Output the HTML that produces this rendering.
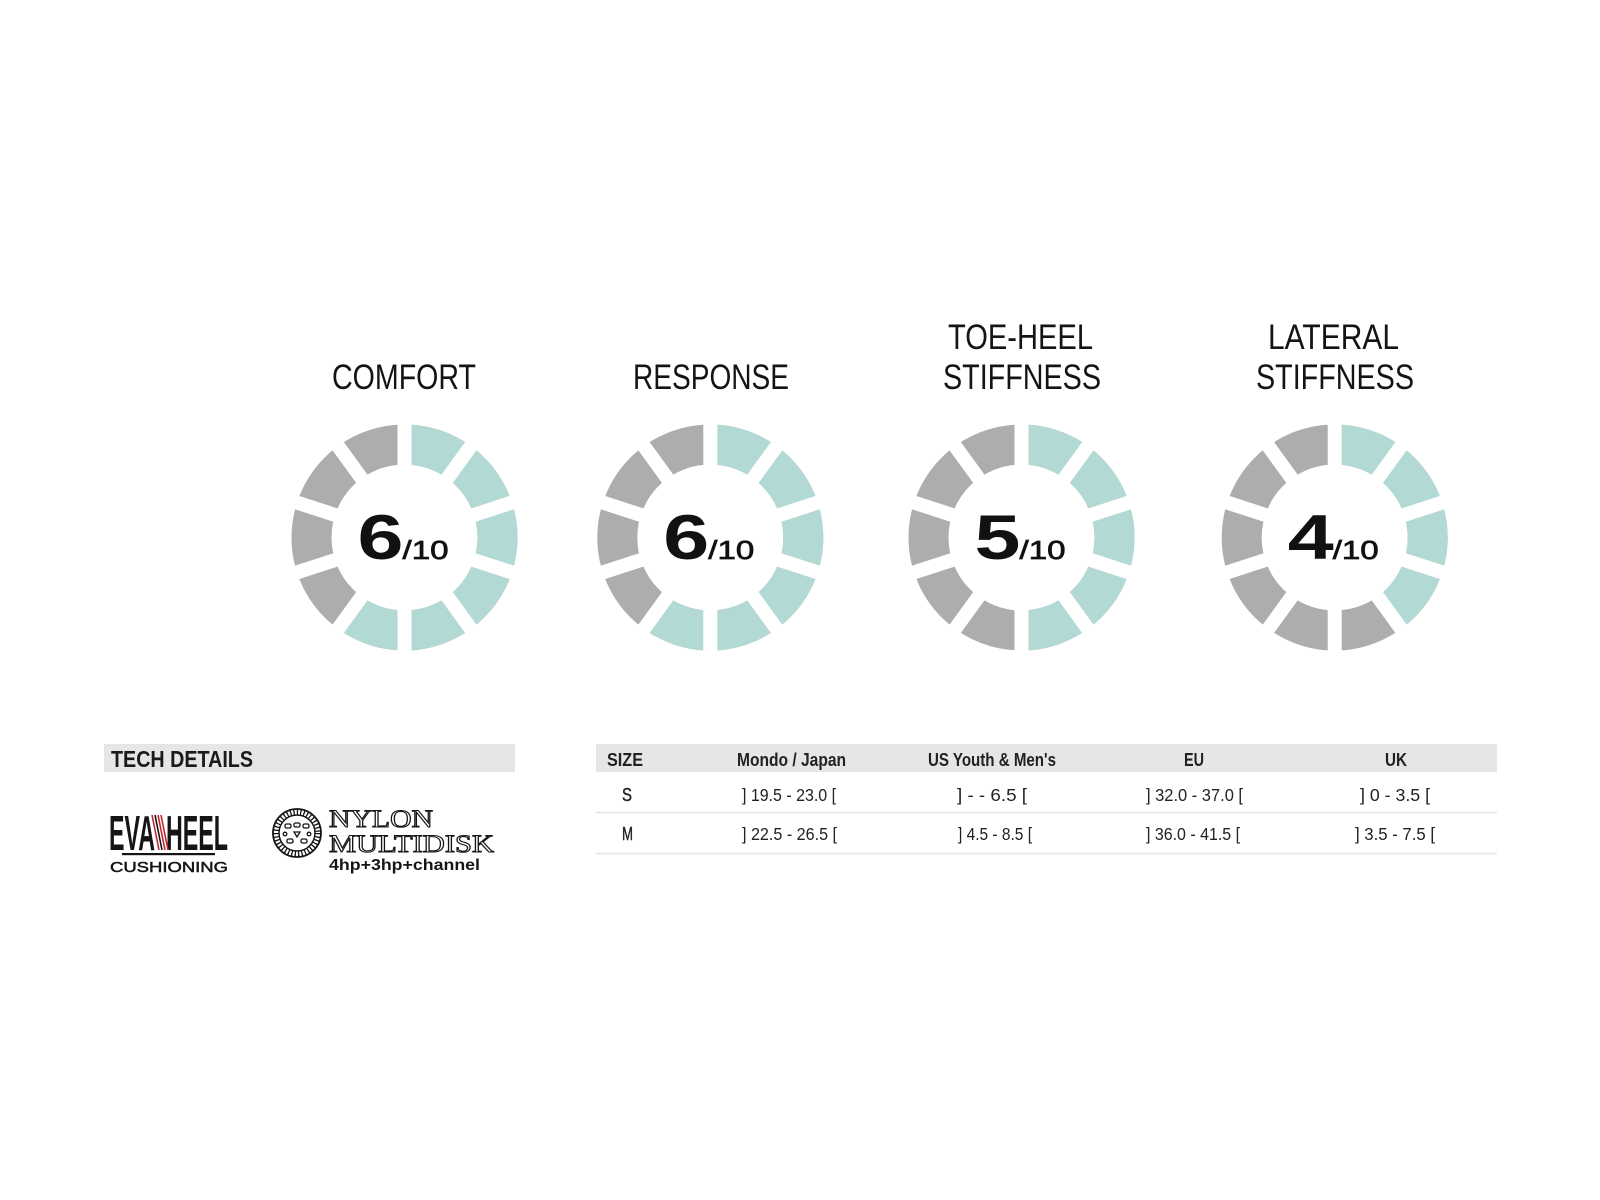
<!DOCTYPE html>
<html>
<head>
<meta charset="utf-8">
<style>
html,body{margin:0;padding:0;background:#ffffff;}
svg{display:block;}
.t{font-family:"Liberation Sans Narrow","Liberation Sans",sans-serif;}
.n{font-family:"Liberation Sans",sans-serif;}
</style>
</head>
<body>
<svg width="1600" height="1200" viewBox="0 0 1600 1200" xmlns="http://www.w3.org/2000/svg">
<defs>
  <g id="gaps" stroke="#ffffff" stroke-width="14">
    <line x1="0" y1="-118" x2="0" y2="118"/>
    <line x1="0" y1="-118" x2="0" y2="118" transform="rotate(36)"/>
    <line x1="0" y1="-118" x2="0" y2="118" transform="rotate(72)"/>
    <line x1="0" y1="-118" x2="0" y2="118" transform="rotate(108)"/>
    <line x1="0" y1="-118" x2="0" y2="118" transform="rotate(144)"/>
  </g>
</defs>
<rect width="1600" height="1200" fill="#ffffff"/>

<!-- Titles -->
<g class="t" fill="#141414" font-size="35">
  <text x="332" y="389" textLength="144" lengthAdjust="spacingAndGlyphs">COMFORT</text>
  <text x="633" y="389" textLength="156" lengthAdjust="spacingAndGlyphs">RESPONSE</text>
  <text x="948" y="349" textLength="145" lengthAdjust="spacingAndGlyphs">TOE-HEEL</text>
  <text x="943" y="389" textLength="158" lengthAdjust="spacingAndGlyphs">STIFFNESS</text>
  <text x="1268" y="349" textLength="131" lengthAdjust="spacingAndGlyphs">LATERAL</text>
  <text x="1256" y="389" textLength="158" lengthAdjust="spacingAndGlyphs">STIFFNESS</text>
</g>

<!-- Gauge 1: 6/10 -->
<g transform="translate(404.5,537.5)">
  <circle r="93" fill="none" stroke="#adadaf" stroke-width="40"/>
  <circle r="93" fill="none" stroke="#b3d9d5" stroke-width="40" transform="rotate(-90)" stroke-dasharray="350.6 1000"/>
  <use href="#gaps"/>
  <text class="n" x="-47" y="21.5" font-size="63" font-weight="bold" fill="#111" textLength="46" lengthAdjust="spacingAndGlyphs">6</text>
  <text class="n" x="-2" y="21.5" font-size="26" fill="#111" stroke="#111" stroke-width="0.7" textLength="46" lengthAdjust="spacingAndGlyphs">/10</text>
</g>

<!-- Gauge 2: 6/10 -->
<g transform="translate(710.3,537.5)">
  <circle r="93" fill="none" stroke="#adadaf" stroke-width="40"/>
  <circle r="93" fill="none" stroke="#b3d9d5" stroke-width="40" transform="rotate(-90)" stroke-dasharray="350.6 1000"/>
  <use href="#gaps"/>
  <text class="n" x="-47" y="21.5" font-size="63" font-weight="bold" fill="#111" textLength="46" lengthAdjust="spacingAndGlyphs">6</text>
  <text class="n" x="-2" y="21.5" font-size="26" fill="#111" stroke="#111" stroke-width="0.7" textLength="46" lengthAdjust="spacingAndGlyphs">/10</text>
</g>

<!-- Gauge 3: 5/10 -->
<g transform="translate(1021.5,537.5)">
  <circle r="93" fill="none" stroke="#adadaf" stroke-width="40"/>
  <circle r="93" fill="none" stroke="#b3d9d5" stroke-width="40" transform="rotate(-90)" stroke-dasharray="292.2 1000"/>
  <use href="#gaps"/>
  <text class="n" x="-47" y="21.5" font-size="63" font-weight="bold" fill="#111" textLength="46" lengthAdjust="spacingAndGlyphs">5</text>
  <text class="n" x="-2" y="21.5" font-size="26" fill="#111" stroke="#111" stroke-width="0.7" textLength="46" lengthAdjust="spacingAndGlyphs">/10</text>
</g>

<!-- Gauge 4: 4/10 -->
<g transform="translate(1334.7,537.5)">
  <circle r="93" fill="none" stroke="#adadaf" stroke-width="40"/>
  <circle r="93" fill="none" stroke="#b3d9d5" stroke-width="40" transform="rotate(-90)" stroke-dasharray="233.7 1000"/>
  <use href="#gaps"/>
  <text class="n" x="-47" y="21.5" font-size="63" font-weight="bold" fill="#111" textLength="46" lengthAdjust="spacingAndGlyphs">4</text>
  <text class="n" x="-2" y="21.5" font-size="26" fill="#111" stroke="#111" stroke-width="0.7" textLength="46" lengthAdjust="spacingAndGlyphs">/10</text>
</g>

<!-- Tech details -->
<rect x="104" y="744" width="411" height="28" fill="#e6e6e8"/>
<text class="t" x="111" y="767" font-size="23" font-weight="bold" fill="#1a1a1a" textLength="142" lengthAdjust="spacingAndGlyphs">TECH DETAILS</text>

<!-- EVA HEEL logo -->
<g class="t" font-weight="bold" fill="#151515">
  <text x="109" y="850" font-size="49" textLength="46" lengthAdjust="spacingAndGlyphs">EVA</text>
  <text x="166" y="850" font-size="49" textLength="62" lengthAdjust="spacingAndGlyphs">HEEL</text>
</g>
<g stroke-width="1.6">
  <line x1="152" y1="815" x2="159" y2="850" stroke="#c22a2e"/>
  <line x1="155" y1="815" x2="162" y2="850" stroke="#151515"/>
  <line x1="158" y1="815" x2="165" y2="850" stroke="#c22a2e"/>
  <line x1="161" y1="815" x2="168" y2="850" stroke="#c22a2e"/>
</g>
<rect x="122" y="853" width="93" height="2.2" fill="#151515"/>
<text class="n" x="110" y="872" font-size="15" fill="#151515" stroke="#151515" stroke-width="0.5" textLength="118" lengthAdjust="spacingAndGlyphs">CUSHIONING</text>

<!-- Nylon multidisk logo -->
<g transform="translate(297,833)" fill="none" stroke="#151515">
  <circle r="24" stroke-width="1.8"/>
  <circle r="21" stroke-width="5" stroke-dasharray="1.3 2.1"/>
  <circle r="18" stroke-width="1.5"/>
  <g stroke-width="1.3">
    <rect x="-12" y="-9" width="6" height="4" rx="1.5"/>
    <rect x="-3" y="-10" width="6" height="4" rx="1.5"/>
    <rect x="6" y="-9" width="6" height="4" rx="1.5"/>
    <circle cx="-12" cy="1" r="1.8"/>
    <circle cx="12" cy="1" r="1.8"/>
    <polygon points="-3,-1 3,-1 0,4"/>
    <rect x="-10" y="6" width="6" height="4" rx="1.5"/>
    <rect x="4" y="6" width="6" height="4" rx="1.5"/>
  </g>
</g>
<g font-family="'Liberation Serif',serif" fill="#ffffff" stroke="#151515" stroke-width="1.1" font-size="25">
  <text x="329" y="827" textLength="104" lengthAdjust="spacingAndGlyphs">NYLON</text>
  <text x="329" y="852" textLength="165" lengthAdjust="spacingAndGlyphs">MULTIDISK</text>
</g>
<text class="n" x="329" y="870" font-size="16" font-weight="bold" fill="#151515" textLength="151" lengthAdjust="spacingAndGlyphs">4hp+3hp+channel</text>

<!-- Size table -->
<rect x="596" y="744" width="901" height="28" fill="#e6e6e8"/>
<g class="t" font-size="18" font-weight="bold" fill="#222">
  <text x="607" y="766" textLength="36" lengthAdjust="spacingAndGlyphs">SIZE</text>
  <text x="791.5" y="766" text-anchor="middle" textLength="109" lengthAdjust="spacingAndGlyphs">Mondo / Japan</text>
  <text x="992" y="766" text-anchor="middle" textLength="128" lengthAdjust="spacingAndGlyphs">US Youth &amp; Men's</text>
  <text x="1194" y="766" text-anchor="middle" textLength="20" lengthAdjust="spacingAndGlyphs">EU</text>
  <text x="1396" y="766" text-anchor="middle" textLength="22" lengthAdjust="spacingAndGlyphs">UK</text>
</g>
<g class="t" font-size="17.5" fill="#222">
  <text x="622" y="801" font-size="18" stroke="#222" stroke-width="0.4" textLength="10" lengthAdjust="spacingAndGlyphs">S</text>
  <text x="789" y="801" text-anchor="middle" textLength="94" lengthAdjust="spacingAndGlyphs">] 19.5 - 23.0 [</text>
  <text x="992" y="801" text-anchor="middle" textLength="70" lengthAdjust="spacingAndGlyphs">] -  - 6.5 [</text>
  <text x="1194.5" y="801" text-anchor="middle" textLength="97" lengthAdjust="spacingAndGlyphs">] 32.0 - 37.0 [</text>
  <text x="1395" y="801" text-anchor="middle" textLength="70" lengthAdjust="spacingAndGlyphs">] 0 - 3.5 [</text>

  <text x="622" y="840" font-size="18" stroke="#222" stroke-width="0.4" textLength="11" lengthAdjust="spacingAndGlyphs">M</text>
  <text x="789.5" y="840" text-anchor="middle" textLength="95" lengthAdjust="spacingAndGlyphs">] 22.5 - 26.5 [</text>
  <text x="995" y="840" text-anchor="middle" textLength="74" lengthAdjust="spacingAndGlyphs">] 4.5 - 8.5 [</text>
  <text x="1193" y="840" text-anchor="middle" textLength="94" lengthAdjust="spacingAndGlyphs">] 36.0 - 41.5 [</text>
  <text x="1395" y="840" text-anchor="middle" textLength="80" lengthAdjust="spacingAndGlyphs">] 3.5 - 7.5 [</text>
</g>
<line x1="596" y1="812.5" x2="1497" y2="812.5" stroke="#e6e6dc" stroke-width="1.5"/>
<line x1="596" y1="853.5" x2="1497" y2="853.5" stroke="#e6e6dc" stroke-width="1.5"/>
</svg>
</body>
</html>
